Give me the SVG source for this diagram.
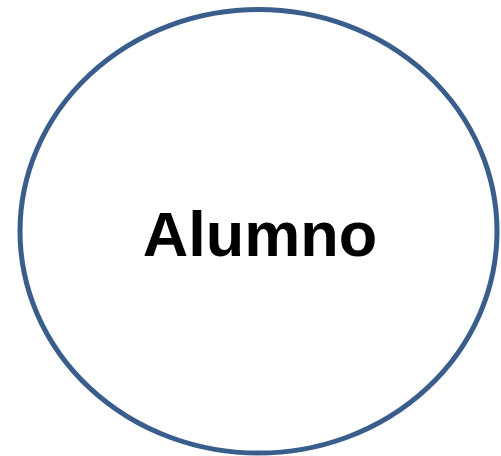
<svg xmlns="http://www.w3.org/2000/svg" width="501" height="456" viewBox="0 0 501 456">
<style>
.node{fill:#ffffff;stroke:#3A5E8C;stroke-width:5}
.label{font-family:"Liberation Sans",Arial,sans-serif;font-weight:bold;font-size:63px;fill:#000000}
</style>
<rect width="501" height="456" fill="#ffffff"/>
<g id="connectors"></g>
<g id="alumno">
<ellipse class="node" cx="258.5" cy="231.3" rx="238.5" ry="221.8"/>
<text class="label" x="260" y="255.5" text-anchor="middle">Alumno</text>
</g>
</svg>
